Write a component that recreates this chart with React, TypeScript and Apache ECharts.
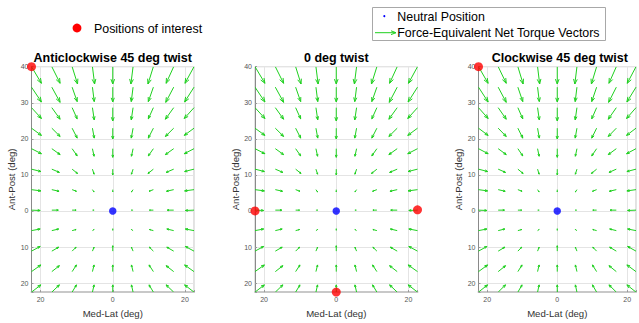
import React, { useEffect, useRef } from "react";
import * as echarts from "echarts";

// Panel titles, left to right
const panelTitles = ["Anticlockwise 45 deg twist", "0 deg twist", "Clockwise 45 deg twist"];

// Axis extents (deg)
const medLatRange = [-22.5, 22.5];
const antPostRange = [-22.5, 40];

// Sample grid where the torque vectors are evaluated
const gridMedLat = [-22.5, -16.875, -11.25, -5.625, 0, 5.625, 11.25, 16.875, 22.5];
const gridAntPost = [40, 34.32, 28.64, 22.95, 17.27, 11.59, 5.91, 0.23, -5.45, -11.14, -16.82, -22.5];

// Force-equivalent net torque vectors, Med-Lat component (one row per gridAntPost entry)
const torqueU = [
  [2.75, 2.3, 1.5, 0.6, 0, -0.6, -1.5, -2.1, -2.5],
  [2.75, 2.3, 1.4, 0.5, 0, -0.5, -1.4, -2.2, -2.6],
  [2.75, 2.3, 1.4, 0.5, 0, -0.5, -1.4, -2.3, -2.7],
  [2.75, 2.3, 1.4, 0.5, 0, -0.5, -1.4, -2.3, -2.7],
  [2.75, 2.3, 1.4, 0.45, 0, -0.45, -1.4, -2.3, -2.7],
  [2.6, 2.1, 1.5, 0.45, 0, -0.45, -1.5, -2.1, -2.6],
  [2.6, 2.0, 1.2, 0.45, 0, -0.45, -1.2, -2.0, -2.6],
  [2.4, 1.8, 1.1, 0.45, 0, -0.45, -1.1, -1.8, -2.4],
  [2.4, 1.9, 1.1, 0.45, 0, -0.45, -1.1, -1.9, -2.4],
  [2.4, 1.9, 1.1, 0.45, 0, -0.45, -1.1, -1.9, -2.4],
  [2.6, 2.1, 1.2, 0.45, 0, -0.45, -1.2, -2.1, -2.6],
  [2.6, 2.1, 1.2, 0.45, 0, -0.45, -1.2, -2.1, -2.6],
];

// Force-equivalent net torque vectors, Ant-Post component
const torqueV = [
  [-4.6, -4.6, -4.8, -4.8, -4.8, -4.8, -4.8, -4.6, -4.6],
  [-4.1, -4.2, -4.0, -4.0, -4.1, -4.0, -4.0, -4.2, -4.1],
  [-3.0, -3.2, -3.1, -3.4, -3.7, -3.4, -3.1, -3.2, -3.0],
  [-2.0, -2.3, -2.75, -2.75, -3.0, -2.75, -2.75, -2.3, -2.0],
  [-1.4, -1.65, -2.0, -2.1, -2.4, -2.1, -2.0, -1.65, -1.4],
  [-0.65, -0.9, -1.2, -1.4, -1.6, -1.4, -1.2, -0.9, -0.65],
  [-0.35, -0.45, -0.45, -0.65, -0.6, -0.65, -0.45, -0.45, -0.35],
  [-0.1, 0, 0, 0, 0, 0, 0, 0, -0.1],
  [0.45, 0.45, 0.3, 0.3, 0.5, 0.3, 0.3, 0.45, 0.45],
  [1.3, 1.1, 1.1, 1.1, 1.5, 1.1, 1.1, 1.1, 1.3],
  [1.85, 1.65, 1.85, 1.85, 1.85, 1.85, 1.85, 1.65, 1.85],
  [2.0, 2.0, 2.0, 2.0, 2.0, 2.0, 2.0, 2.0, 2.0],
];

const neutralPosition = [[0, 0]];

// Positions of interest for each twist condition
const positionsAnticlockwise = [[-22.5, 40]];
const positionsZeroTwist = [[-22.5, 0], [22.5, 0.3], [0, -22.5]];
const positionsClockwise = [[-22.5, 40]];
const positionsOfInterest = [positionsAnticlockwise, positionsZeroTwist, positionsClockwise];

const FONT = "'Liberation Sans', Arial, Helvetica, sans-serif";
const GREEN = "#1fd01f";
const PANEL_LEFT = [31.5, 255, 478.5];
const PANEL_TOP = 66.7;
const PANEL_W = 162.5;
const PANEL_H = 226.6;

function arrowPieces(p0: number[], p1: number[], headFrac: number) {
  const dx = p1[0] - p0[0];
  const dy = p1[1] - p0[1];
  const len = Math.hypot(dx, dy);
  if (len < 0.3) return null;
  const ux = dx / len;
  const uy = dy / len;
  const hl = Math.min(len * headFrac, 5);
  const hw = hl * 0.38;
  const bx = p1[0] - ux * hl;
  const by = p1[1] - uy * hl;
  return {
    shaft: { x1: p0[0], y1: p0[1], x2: p1[0], y2: p1[1] },
    head: [
      [bx - uy * hw, by + ux * hw],
      [p1[0], p1[1]],
      [bx + uy * hw, by - ux * hw],
    ],
  };
}

export default function App() {
  const ref = useRef<HTMLDivElement>(null);

  useEffect(() => {
    if (!ref.current) return;
    const chart = echarts.init(ref.current, undefined, { renderer: "svg" });

    const vectorData: number[][] = [];
    gridAntPost.forEach((y, i) => {
      gridMedLat.forEach((x, j) => {
        vectorData.push([x, y, torqueU[i][j], torqueV[i][j]]);
      });
    });

    const grids: any[] = [];
    const xAxes: any[] = [];
    const yAxes: any[] = [];
    const series: any[] = [];
    const graphics: any[] = [];

    const tickFmt = (v: number) => (Math.abs(v % 10) < 1e-9 ? String(Math.abs(v)) : "");

    panelTitles.forEach((title, k) => {
      grids.push({
        left: PANEL_LEFT[k],
        top: PANEL_TOP,
        width: PANEL_W,
        height: PANEL_H,
        show: true,
        borderColor: "#c4c4c4",
        borderWidth: 1,
        backgroundColor: "transparent",
      });
      xAxes.push({
        type: "value",
        gridIndex: k,
        min: medLatRange[0],
        max: medLatRange[1],
        splitNumber: 2,
        minInterval: 20,
        maxInterval: 20,
        name: "Med-Lat (deg)",
        nameLocation: "middle",
        nameGap: 15,
        nameTextStyle: { fontFamily: FONT, fontSize: 9.6, color: "#333" },
        axisLine: { show: true, onZero: false, lineStyle: { color: "#c8c8c8", width: 2 } },
        axisTick: { show: true, inside: true, length: 2, lineStyle: { color: "#999" } },
        axisLabel: { formatter: tickFmt, fontFamily: FONT, fontSize: 7, color: "#555", margin: 4 },
        splitLine: { show: true, lineStyle: { color: "#e4e4e4", width: 1 } },
      });
      yAxes.push({
        type: "value",
        gridIndex: k,
        min: antPostRange[0],
        max: antPostRange[1],
        splitNumber: 6,
        minInterval: 10,
        maxInterval: 10,
        name: "Ant-Post (deg)",
        nameLocation: "middle",
        nameGap: 11.5,
        nameTextStyle: { fontFamily: FONT, fontSize: 9.6, color: "#333" },
        axisLine: { show: true, onZero: false, lineStyle: { color: "#8a8a8a", width: 1 } },
        axisTick: { show: true, inside: true, length: 2, lineStyle: { color: "#999" } },
        axisLabel: { formatter: tickFmt, fontFamily: FONT, fontSize: 7, color: "#555", margin: 3 },
        splitLine: { show: true, lineStyle: { color: "#e4e4e4", width: 1 } },
      });

      series.push({
        type: "custom",
        xAxisIndex: k,
        yAxisIndex: k,
        clip: true,
        z: 3,
        encode: { x: 0, y: 1 },
        data: vectorData,
        renderItem: (_p: any, api: any) => {
          const x = api.value(0);
          const y = api.value(1);
          const p0 = api.coord([x, y]);
          const p1 = api.coord([x + api.value(2), y + api.value(3)]);
          const a = arrowPieces(p0, p1, 0.28);
          if (!a) return null;
          return {
            type: "group",
            children: [
              { type: "line", shape: a.shaft, style: { stroke: GREEN, lineWidth: 1 } },
              { type: "polyline", shape: { points: a.head }, style: { stroke: GREEN, fill: "none", lineWidth: 1 } },
            ],
          };
        },
      });
      series.push({
        type: "scatter",
        xAxisIndex: k,
        yAxisIndex: k,
        clip: false,
        z: 5,
        symbolSize: 9,
        itemStyle: { color: "#ff0000" },
        data: positionsOfInterest[k],
      });
      series.push({
        type: "scatter",
        xAxisIndex: k,
        yAxisIndex: k,
        clip: false,
        z: 6,
        symbolSize: 7.5,
        itemStyle: { color: "#0000ff" },
        data: neutralPosition,
      });

      graphics.push({
        type: "text",
        x: PANEL_LEFT[k] + PANEL_W / 2,
        y: 57.5,
        style: {
          text: title,
          fontFamily: FONT,
          fontSize: 12.5,
          fontWeight: "bold",
          fill: "#000",
          textAlign: "center",
          textVerticalAlign: "middle",
        },
      });
    });

    // Legend: positions of interest (no frame)
    graphics.push(
      { type: "circle", shape: { cx: 77, cy: 28, r: 4.4 }, style: { fill: "#ff0000" } },
      {
        type: "text",
        x: 94,
        y: 28.5,
        style: { text: "Positions of interest", fontFamily: FONT, fontSize: 12.4, fill: "#000", textVerticalAlign: "middle" },
      }
    );

    // Legend: neutral position and torque vectors (framed)
    const legArrow = arrowPieces([375, 32.7], [396, 32.7], 0.3);
    graphics.push(
      {
        type: "rect",
        shape: { x: 372.5, y: 7.5, width: 233, height: 33 },
        style: { fill: "#fff", stroke: "#a8a8a8", lineWidth: 1 },
      },
      { type: "circle", shape: { cx: 384.3, cy: 16.2, r: 1 }, style: { fill: "#0000ff" } },
      {
        type: "text",
        x: 397.3,
        y: 16.7,
        style: { text: "Neutral Position", fontFamily: FONT, fontSize: 12.4, fill: "#000", textVerticalAlign: "middle" },
      },
      { type: "line", shape: legArrow!.shaft, style: { stroke: GREEN, lineWidth: 1 } },
      { type: "polyline", shape: { points: legArrow!.head }, style: { stroke: GREEN, fill: "none", lineWidth: 1 } },
      {
        type: "text",
        x: 397.3,
        y: 33.2,
        style: {
          text: "Force-Equivalent Net Torque Vectors",
          fontFamily: FONT,
          fontSize: 12.4,
          fill: "#000",
          textVerticalAlign: "middle",
        },
      }
    );

    chart.setOption({
      animation: false,
      backgroundColor: "#ffffff",
      textStyle: { fontFamily: FONT },
      grid: grids,
      xAxis: xAxes,
      yAxis: yAxes,
      series,
      graphic: graphics,
    });

    return () => chart.dispose();
  }, []);

  return (
    <div
      ref={ref}
      style={{ position: "fixed", left: 0, top: 0, width: 639, height: 323, background: "#fff" }}
    />
  );
}
